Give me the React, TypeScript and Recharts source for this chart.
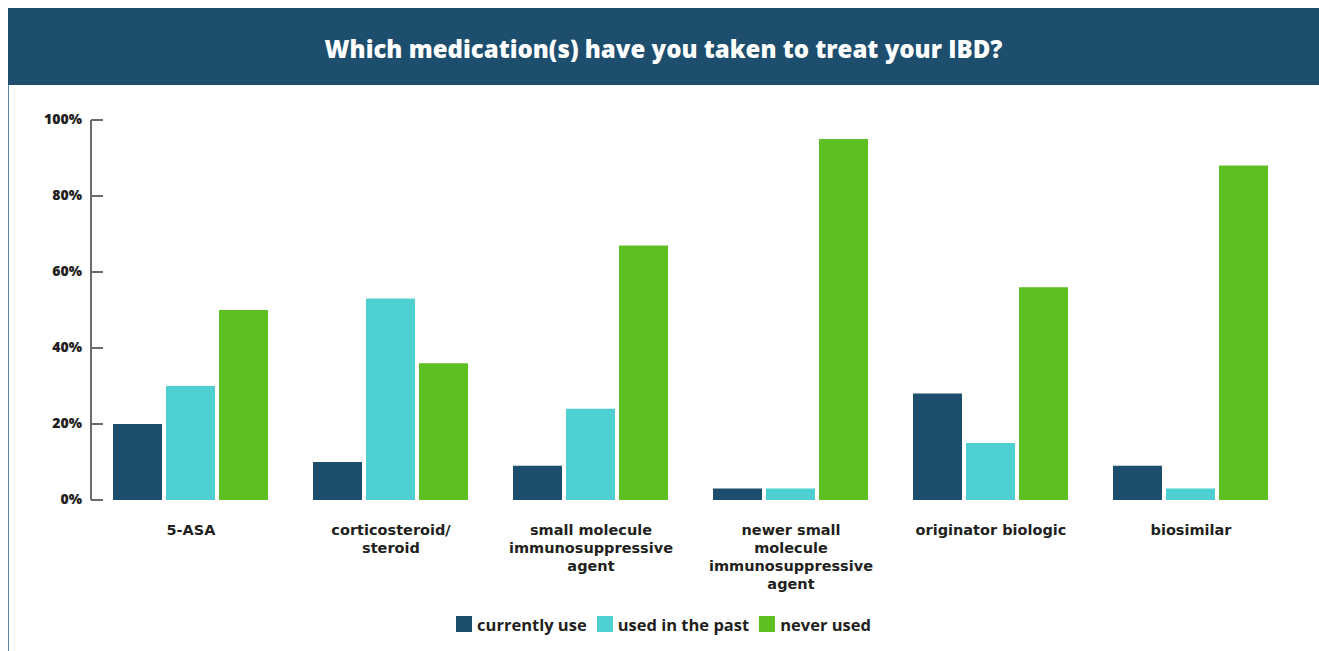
import { BarChart, Bar, XAxis, YAxis, Legend } from "recharts"

const categories = [
  "5-ASA",
  "corticosteroid/ steroid",
  "small molecule immunosuppressive agent",
  "newer small molecule immunosuppressive agent",
  "originator biologic",
  "biosimilar",
]
const labelLines = [
  ["5-ASA"],
  ["corticosteroid/", "steroid"],
  ["small molecule", "immunosuppressive", "agent"],
  ["newer small", "molecule", "immunosuppressive", "agent"],
  ["originator biologic"],
  ["biosimilar"],
]
const currentlyUse = [20, 10, 9, 3, 28, 9]
const usedInPast = [30, 53, 24, 3, 15, 3]
const neverUsed = [50, 36, 67, 95, 56, 88]
const yTicks = [0, 20, 40, 60, 80, 100]

const series = [
  { key: "current", name: "currently use", color: "#1d4e6e" },
  { key: "past", name: "used in the past", color: "#4ecfd1" },
  { key: "never", name: "never used", color: "#5cbf22" },
]

const data = categories.map((c, i) => ({
  category: c,
  current: currentlyUse[i],
  past: usedInPast[i],
  never: neverUsed[i],
}))

const FONT = "'Open Sans', Lato, sans-serif"
const LABEL_FONT = "'DejaVu Sans', 'Open Sans', sans-serif"
const TEXT = "#231f20"

function YTick(props: any) {
  const { x, y, payload } = props
  return (
    <g>
      <line x1={x + 9} x2={x + 21} y1={y} y2={y} stroke="#6b6b6b" strokeWidth={2} />
      <text x={x} y={y} dy={4} textAnchor="end" fontFamily={FONT} fontWeight={800} fontSize={14} fill={TEXT}>
        {payload.value}%
      </text>
    </g>
  )
}

function XTick(props: any) {
  const { x, y, index } = props
  const lines = labelLines[index] || []
  return (
    <text x={x} y={y + 27} textAnchor="middle" fontFamily={LABEL_FONT} fontWeight={700} fontSize={14.5} fill={TEXT}>
      {lines.map((l, i) => (
        <tspan key={i} x={x} dy={i === 0 ? 0 : 18}>
          {l}
        </tspan>
      ))}
    </text>
  )
}

function LegendContent() {
  return (
    <div style={{ display: "flex", justifyContent: "center", height: 24, alignItems: "center", fontFamily: FONT, fontWeight: 700, fontSize: 16.5, color: TEXT }}>
      {series.map((s) => (
        <div key={s.key} style={{ display: "flex", alignItems: "center", marginLeft: 5, marginRight: 5 }}>
          <span style={{ width: 16, height: 16, background: s.color, display: "inline-block", marginRight: 5 }} />
          <span>{s.name}</span>
        </div>
      ))}
    </div>
  )
}

export default function App() {
  return (
    <div style={{ position: "absolute", left: 8, top: 8, width: 1311, height: 643, background: "#fff", overflow: "hidden" }}>
      <style>{"html,body{overflow:hidden;}"}</style>
      <div
        style={{
          height: 77,
          boxSizing: "border-box",
          paddingTop: 3,
          background: "#1d4e6e",
          color: "#fff",
          display: "flex",
          alignItems: "center",
          justifyContent: "center",
          fontFamily: FONT,
          fontWeight: 800,
          fontSize: 24,
        }}
      >
        Which medication(s) have you taken to treat your IBD?
      </div>
      <div style={{ position: "absolute", left: 0, top: 77, width: 1, height: 566, background: "#5a86a8" }} />
      <BarChart
        width={1311}
        height={566}
        data={data}
        margin={{ top: 35, right: 28, left: 23, bottom: 15 }}
        barCategoryGap="11%"
        barGap={4}
      >
        <XAxis dataKey="category" axisLine={false} tickLine={false} height={112} interval={0} tick={<XTick />} />
        <YAxis
          domain={[0, 100]}
          ticks={yTicks}
          width={60}
          tickSize={0}
          tickMargin={9}
          axisLine={{ stroke: "#6b6b6b", strokeWidth: 2 }}
          tick={<YTick />}
        />
        <Legend verticalAlign="bottom" align="center" wrapperStyle={{ width: 1311, left: 0 }} content={<LegendContent />} />
        {series.map((s) => (
          <Bar key={s.key} dataKey={s.key} name={s.name} fill={s.color} isAnimationActive={false} />
        ))}
      </BarChart>
    </div>
  )
}
